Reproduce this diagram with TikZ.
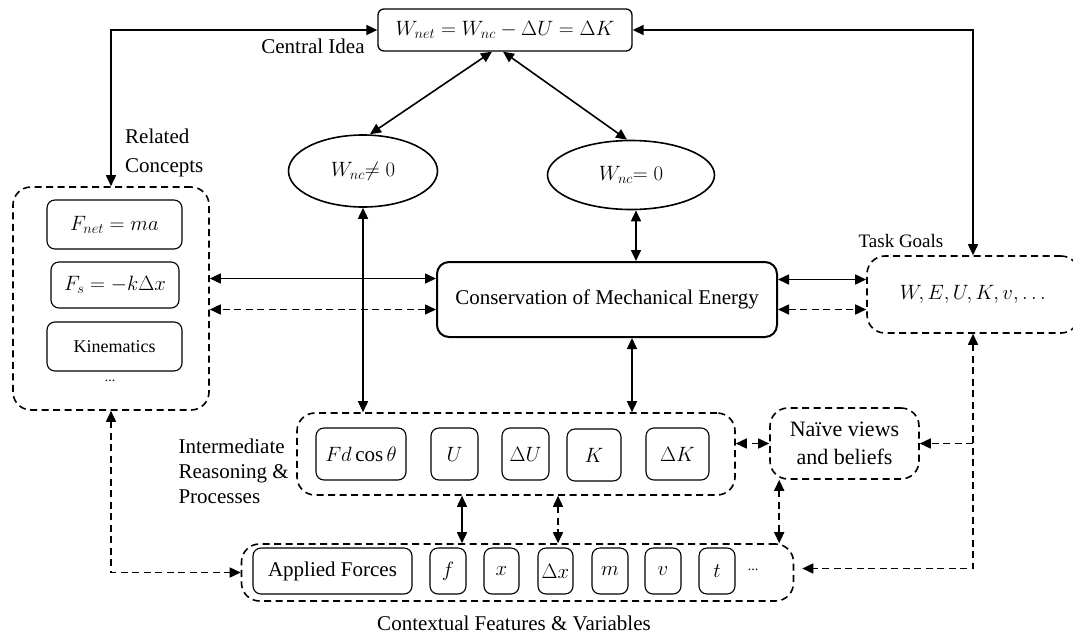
\documentclass[tikz,border=0pt]{standalone}
\usepackage{fontspec}
\setmainfont{Liberation Serif}
\usetikzlibrary{positioning, calc, arrows.meta, shapes.geometric}

\begin{document}
\begin{tikzpicture}[
			x=1pt, y=-1pt,
			font=\fontsize{21}{25}\selectfont,
			box/.style={draw, rectangle, rounded corners=8pt, line width=1.1pt, align=center, inner sep=0pt},
			grp/.style={draw, rectangle, rounded corners=18pt, line width=1.6pt, dash pattern=on 7pt off 4.5pt, inner sep=0pt, align=center},
			oval/.style={draw, ellipse, line width=1.6pt, inner sep=0pt},
			arr/.style={<->, line width=1.6pt, >={Triangle[length=11pt,width=10pt]}},
			darr/.style={arr, dash pattern=on 7pt off 4.5pt},
			lbl/.style={align=left, inner sep=0pt},
		]
			\useasboundingbox (0,0) rectangle (1073,635);

			% central idea and the two cases
			\node[box, line width=1.3pt, rounded corners=6pt, minimum width=254pt, minimum height=42pt] (idea) at (505,30) {$W_{net} = W_{nc} - \Delta U = \Delta K$};
			\node[lbl] (central) at (313,46) {Central Idea};
			\node[oval, minimum width=149pt, minimum height=72pt] (nonzero) at (363,171) {$W_{nc}{\neq}\;0$};
			\node[oval, minimum width=167pt, minimum height=69pt] (zero) at (631,175) {$W_{nc}{=}\;0$};
			\node[box, line width=2pt, rounded corners=12pt, minimum width=340pt, minimum height=75pt] (cme) at (607,299.5) {Conservation of Mechanical Energy};

			% related concepts
			\node[grp, minimum width=196pt, minimum height=223pt] (rel) at (111,298.5) {};
			\node[lbl, anchor=west, font=\fontsize{21}{29}\selectfont] (related) at (125,153) {Related\\Concepts};
			\node[box, minimum width=135pt, minimum height=49pt] (fnet) at (114.5,224.5) {$F_{net} = ma$};
			\node[box, minimum width=128pt, minimum height=46pt] (fs) at (115,285) {$F_s = -k\Delta x$};
			\node[box, minimum width=135pt, minimum height=49pt, font=\fontsize{18}{22}\selectfont] (kin) at (114.5,346.5) {Kinematics};
			\node[font=\fontsize{14}{16}\selectfont] (reldots) at (110,381) {...};

			% task goals
			\node[grp, minimum width=212pt, minimum height=77pt] (task) at (973,294.5) {$W, E, U, K, v, \ldots$};
			\node[font=\fontsize{19}{22}\selectfont] (goals) at (901,241) {Task Goals};

			% intermediate reasoning
			\node[grp, minimum width=438pt, minimum height=82pt] (inter) at (516,454) {};
			\node[lbl, anchor=east] (interlbl) at (289,471) {Intermediate\\Reasoning \&\\Processes};
			\node[box, minimum width=90pt, minimum height=52pt] (fd) at (361,454) {$Fd\cos\theta$};
			\node[box, minimum width=47pt, minimum height=52pt] (u) at (454.5,454) {$U$};
			\node[box, minimum width=47pt, minimum height=52pt] (du) at (525.5,454) {$\Delta U$};
			\node[box, minimum width=54pt, minimum height=52pt] (k) at (594,455) {$K$};
			\node[box, minimum width=63pt, minimum height=52pt] (dk) at (677.5,454) {$\Delta K$};

			\node[grp, minimum width=149pt, minimum height=71pt, font=\fontsize{22}{28}\selectfont] (naive) at (844.5,443.5) {Naïve views\\and beliefs};

			% contextual features
			\node[grp, minimum width=552pt, minimum height=57pt] (ctx) at (517.5,572.5) {};
			\node[box, minimum width=159pt, minimum height=46pt] (applied) at (332.5,571) {Applied Forces};
			\node[box, minimum width=36pt, minimum height=46pt] (f) at (448,571) {$f$};
			\node[box, minimum width=35pt, minimum height=46pt] (xx) at (501.5,571) {$x$};
			\node[box, minimum width=35pt, minimum height=46pt] (dx) at (555.5,571) {$\Delta x$};
			\node[box, minimum width=36pt, minimum height=46pt] (m) at (610,571) {$m$};
			\node[box, minimum width=36pt, minimum height=46pt] (v) at (663,571) {$v$};
			\node[box, minimum width=36pt, minimum height=46pt] (t) at (717,571) {$t$};
			\node[font=\fontsize{14}{16}\selectfont] (ctxdots) at (753,570) {...};
			\node (ctxlbl) at (514,623) {Contextual Features \& Variables};

			% connectors
			\draw[arr] (rel.north) |- (idea.west);
			\draw[arr] (task.north) |- (idea.east);
			\draw[arr] ([xshift=-13pt]idea.south) -- ([xshift=7pt]nonzero.north);
			\draw[arr] ([xshift=-2pt]idea.south) -- ([xshift=-4pt]zero.north);
			\draw[arr] (nonzero.south) -- (nonzero.south |- inter.north);
			\draw[arr] ([xshift=5pt]zero.south) -- ([xshift=5pt]zero.south |- cme.north);
			\draw[arr] ([xshift=25pt]cme.south) -- ([xshift=25pt]cme.south |- inter.north);
			\draw[arr] ([yshift=21pt]cme.west) -- ([yshift=21pt]cme.west -| rel.east);
			\draw[darr] ([yshift=-10pt]cme.west) -- ([yshift=-10pt]cme.west -| rel.east);
			\draw[arr] ([yshift=20pt]cme.east) -- ([yshift=20pt]cme.east -| task.west);
			\draw[darr] ([yshift=-10pt]cme.east) -- ([yshift=-10pt]cme.east -| task.west);
			\draw[darr] (naive.west) -- (naive.west -| inter.east);
			\draw[darr] ([xshift=10pt]naive.south west) -- ([xshift=10pt]naive.south west |- ctx.north);
			\draw[arr] ([xshift=-54pt]inter.south) -- ([xshift=-54pt]inter.south |- ctx.north);
			\draw[darr] ([xshift=42pt]inter.south) -- ([xshift=42pt]inter.south |- ctx.north);
			\draw[darr] (rel.south) |- (ctx.west);
			\draw[darr] (task.south) |- ([xshift=8pt,yshift=4pt]ctx.east);
			\draw[darr, ->] (task.south |- naive.east) -- (naive.east);
		\end{tikzpicture}
\end{document}
